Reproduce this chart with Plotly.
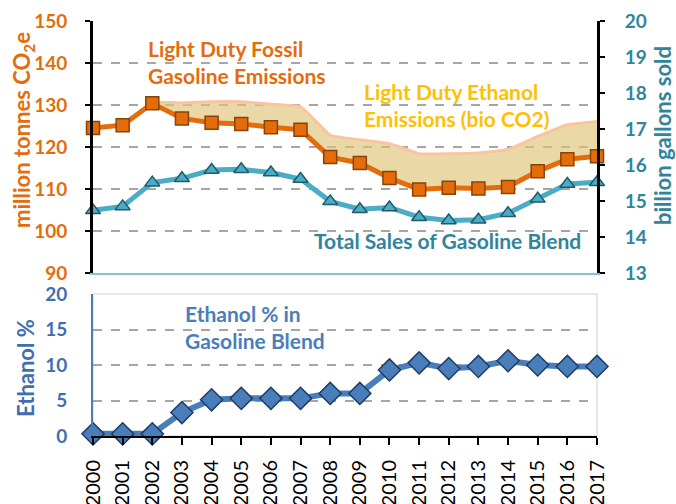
import plotly.graph_objects as go

years = list(range(2000, 2018))
year_labels = [str(y) for y in years]
fossil_emissions = [124.5, 125.2, 130.4, 126.8, 125.8, 125.5, 124.7, 124.1, 117.6, 116.2,
                    112.6, 109.9, 110.3, 110.1, 110.5, 114.2, 117.1, 117.8]
total_emissions = [124.8, 125.5, 130.6, 130.5, 130.8, 130.8, 130.2, 129.6, 122.8, 121.7,
                   120.8, 118.4, 118.4, 118.6, 119.4, 122.5, 125.3, 126.1]
gasoline_sales = [14.74, 14.85, 15.51, 15.63, 15.86, 15.88, 15.79, 15.61, 14.99, 14.77,
                  14.82, 14.55, 14.46, 14.48, 14.66, 15.06, 15.47, 15.52]
ethanol_pct = [0.3, 0.3, 0.3, 3.3, 5.1, 5.3, 5.3, 5.3, 6.0, 6.0,
               9.3, 10.3, 9.5, 9.8, 10.6, 10.0, 9.8, 9.8]

W, H = 676, 504
FONT = "Lato"
ORANGE = "#E46C0A"
TEAL = "#31849B"
BLUE = "#3F6FAF"
GRID = "#A6A6A6"

x0, x1 = 93 / W, 597 / W
top_dom = [1 - 273 / H, 1 - 21 / H]
bot_dom = [1 - 436 / H, 1 - 294 / H]

fig = go.Figure()

# base for fill
fig.add_trace(go.Scatter(x=years, y=fossil_emissions, xaxis="x2", yaxis="y",
                         mode="lines", line=dict(color=ORANGE, width=0),
                         showlegend=False, hoverinfo="skip"))
fig.add_trace(go.Scatter(x=years, y=total_emissions, xaxis="x2", yaxis="y",
                         mode="lines", fill="tonexty",
                         fillcolor="rgba(222,196,120,0.65)",
                         line=dict(color="#F9C4A0", width=3, shape="spline", smoothing=0.3),
                         showlegend=False))
fig.add_trace(go.Scatter(x=years, y=fossil_emissions, xaxis="x2", yaxis="y",
                         mode="lines+markers", cliponaxis=False,
                         line=dict(color=ORANGE, width=5),
                         marker=dict(symbol="square", size=13, color=ORANGE,
                                     line=dict(color="#8A4206", width=1.5)),
                         showlegend=False))
fig.add_trace(go.Scatter(x=years, y=gasoline_sales, xaxis="x2", yaxis="y2",
                         mode="lines+markers", cliponaxis=False,
                         line=dict(color="#4BACC6", width=5),
                         marker=dict(symbol="triangle-up", size=13, color="#4BACC6",
                                     line=dict(color="#1F5B6B", width=1.5)),
                         showlegend=False))
fig.add_trace(go.Scatter(x=years, y=ethanol_pct, xaxis="x", yaxis="y3",
                         mode="lines+markers", cliponaxis=False,
                         line=dict(color="#4A7EBB", width=6),
                         marker=dict(symbol="diamond", size=17, color="#4A7EBB",
                                     line=dict(color="#1F3D66", width=1.5)),
                         showlegend=False))

fig.update_layout(
    width=W, height=H,
    margin=dict(l=0, r=0, t=0, b=0, autoexpand=False),
    paper_bgcolor="white", plot_bgcolor="white",
    font=dict(family=FONT),
    xaxis=dict(domain=[x0, x1], range=[2000, 2017], anchor="y3", automargin=False,
               tickvals=years, ticktext=year_labels, tickangle=-90,
               tickfont=dict(family=FONT, size=20, color="black"),
               showline=True, linecolor="black", linewidth=2,
               ticks="outside", ticklen=7, tickcolor="black", tickwidth=2,
               showgrid=False, zeroline=False, ticklabelstandoff=7),
    xaxis2=dict(domain=[x0, x1], range=[2000, 2017], anchor="y", automargin=False,
                showticklabels=False, showline=True, linecolor="#7FC3D6", linewidth=2,
                showgrid=False, zeroline=False),
    yaxis=dict(domain=top_dom, range=[90, 150], dtick=10, anchor="x2", automargin=False,
               tickfont=dict(family=FONT, size=19, color=ORANGE, weight="bold"),
               showline=True, linecolor="black", linewidth=3,
               ticks="outside", ticklen=5, tickcolor="black", tickwidth=2,
               showgrid=True, gridcolor=GRID, griddash="dash", gridwidth=1.5,
               zeroline=False, ticklabelstandoff=14),
    yaxis2=dict(range=[13, 20], dtick=1, overlaying="y", side="right", anchor="x2",
                automargin=False,
                tickfont=dict(family=FONT, size=19, color=TEAL, weight="bold"),
                showline=True, linecolor="black", linewidth=3,
                ticks="outside", ticklen=5, tickcolor="black", tickwidth=2,
                showgrid=False, zeroline=False, ticklabelstandoff=16),
    yaxis3=dict(domain=bot_dom, range=[0, 20], dtick=5, anchor="x", automargin=False,
                tickfont=dict(family=FONT, size=19, color=BLUE, weight="bold"),
                showline=True, linecolor="#4A7EBB", linewidth=2,
                showgrid=True, gridcolor=GRID, griddash="dash", gridwidth=1.5,
                zeroline=False, ticklabelstandoff=20),
)

# plot area frames
fig.add_shape(type="rect", xref="paper", yref="paper", x0=x0, x1=x1,
              y0=bot_dom[0], y1=bot_dom[1], line=dict(color="#D0D0D0", width=1), layer="below")

ann = [
    dict(text="Light Duty Fossil<br>Gasoline Emissions", x=146 / W, y=1 - 62 / H,
         xanchor="left", yanchor="middle", align="left",
         font=dict(size=21, color=ORANGE, weight="bold")),
    dict(text="Light Duty Ethanol<br>Emissions (bio CO2)", x=362 / W, y=1 - 105 / H,
         xanchor="left", yanchor="middle", align="left",
         font=dict(size=21, color="#FFC000", weight="bold")),
    dict(text="Total Sales of Gasoline Blend", x=583 / W, y=1 - 240 / H,
         xanchor="right", yanchor="middle", align="right",
         font=dict(size=21, color=TEAL, weight="bold")),
    dict(text="Ethanol % in<br>Gasoline Blend", x=183 / W, y=1 - 327 / H,
         xanchor="left", yanchor="middle", align="left",
         font=dict(size=21, color="#4A7EBB", weight="bold")),
    dict(text="million tonnes CO<sub>2</sub>e", x=23 / W, y=1 - 130 / H, textangle=-90,
         xanchor="center", yanchor="middle",
         font=dict(size=22, color=ORANGE, weight="bold")),
    dict(text="billion gallons sold", x=663 / W, y=1 - 136 / H, textangle=-90,
         xanchor="center", yanchor="middle",
         font=dict(size=22, color=TEAL, weight="bold")),
    dict(text="Ethanol %", x=25 / W, y=1 - 368 / H, textangle=-90,
         xanchor="center", yanchor="middle",
         font=dict(size=22, color=BLUE, weight="bold")),
]
for a in ann:
    a.update(xref="paper", yref="paper", showarrow=False)
    a["font"]["family"] = FONT
    fig.add_annotation(**a)

fig.write_html("out.html", config={"displayModeBar": False},
               post_script="document.body.style.margin='0';document.body.style.overflow='hidden';")
